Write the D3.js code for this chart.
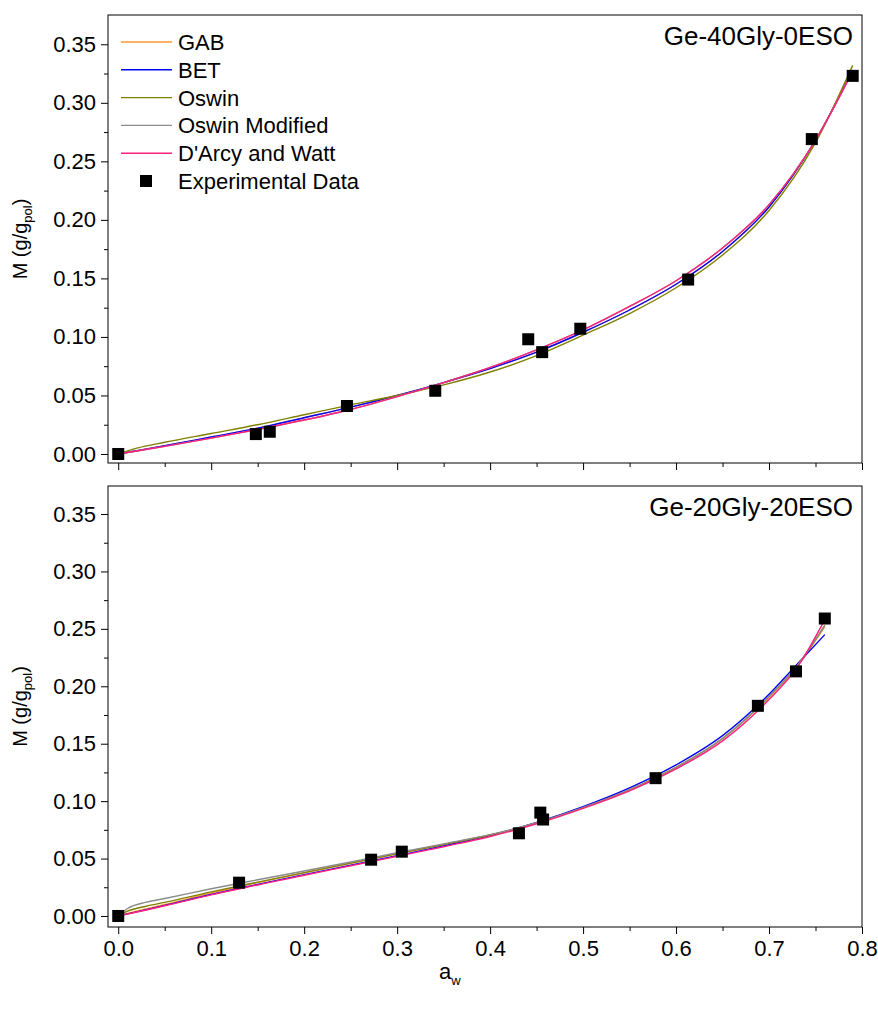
<!DOCTYPE html>
<html>
<head>
<meta charset="utf-8">
<script src="https://cdn.jsdelivr.net/npm/d3@7"></script>
<style>
  body { margin: 0; background: #fff; }
  text { font-family: "Liberation Sans", Arial, sans-serif; fill: #000; }
</style>
</head>
<body>
<div id="chart"></div>
<script>
// ---- data ----
var seriesNames = ["GAB", "BET", "Oswin", "Oswin Modified", "D'Arcy and Watt"];
var seriesColors = ["#ff9a2e", "#0000ff", "#808000", "#8c8c8c", "#ff1f7c"];

// top panel: Ge-40Gly-0ESO
var topAw = [0, 0.02, 0.05, 0.1, 0.15, 0.2, 0.25, 0.3, 0.35, 0.4, 0.45, 0.5, 0.55, 0.6, 0.65, 0.7, 0.75, 0.79];
var topGAB = [0, 0.0028, 0.007, 0.0145, 0.022, 0.031, 0.040, 0.050, 0.061, 0.073, 0.087, 0.104, 0.123, 0.145, 0.173, 0.211, 0.268, 0.328];
var topBET = [0, 0.0028, 0.007, 0.0145, 0.022, 0.031, 0.040, 0.050, 0.061, 0.073, 0.087, 0.104, 0.123, 0.145, 0.173, 0.211, 0.268, 0.328];
var topOswin = [0, 0.005, 0.010, 0.0175, 0.025, 0.0335, 0.042, 0.050, 0.059, 0.070, 0.084, 0.1015, 0.120, 0.142, 0.170, 0.208, 0.266, 0.332];
var topOswinMod = [0, 0.0026, 0.0065, 0.0135, 0.021, 0.029, 0.038, 0.049, 0.061, 0.074, 0.089, 0.106, 0.126, 0.148, 0.176, 0.213, 0.268, 0.327];
var topDarcy = [0, 0.0026, 0.0065, 0.0135, 0.021, 0.029, 0.038, 0.049, 0.061, 0.074, 0.089, 0.106, 0.126, 0.148, 0.176, 0.213, 0.268, 0.327];
var topExpAw = [0, 0.148, 0.163, 0.246, 0.341, 0.441, 0.456, 0.497, 0.613, 0.746, 0.790];
var topExpM = [0, 0.017, 0.019, 0.041, 0.054, 0.098, 0.087, 0.107, 0.149, 0.269, 0.323];

// bottom panel: Ge-20Gly-20ESO
var botAw = [0, 0.01, 0.03, 0.05, 0.1, 0.15, 0.2, 0.25, 0.3, 0.35, 0.4, 0.45, 0.5, 0.55, 0.6, 0.65, 0.7, 0.73, 0.76];
var botGAB = [0, 0.0022, 0.0062, 0.0100, 0.0200, 0.0290, 0.0375, 0.0458, 0.0542, 0.0622, 0.0705, 0.0812, 0.0945, 0.1100, 0.1295, 0.1545, 0.1905, 0.2170, 0.2520];
var botBET = [0, 0.0018, 0.0055, 0.0092, 0.0188, 0.0275, 0.0360, 0.0442, 0.0525, 0.0610, 0.0700, 0.0814, 0.0952, 0.1115, 0.1315, 0.1570, 0.1930, 0.2190, 0.2450];
var botOswin = [0, 0.0042, 0.0085, 0.0118, 0.0210, 0.0295, 0.0378, 0.0460, 0.0543, 0.0622, 0.0705, 0.0810, 0.0943, 0.1098, 0.1293, 0.1545, 0.1910, 0.2175, 0.2530];
var botOswinMod = [0, 0.0065, 0.0120, 0.0152, 0.0237, 0.0315, 0.0392, 0.0470, 0.0550, 0.0628, 0.0708, 0.0812, 0.0943, 0.1097, 0.1292, 0.1545, 0.1910, 0.2175, 0.2530];
var botDarcy = [0, 0.0017, 0.0052, 0.0089, 0.0184, 0.0270, 0.0355, 0.0437, 0.0520, 0.0603, 0.0692, 0.0803, 0.0937, 0.1090, 0.1280, 0.1525, 0.1885, 0.2160, 0.2580];
var botExpAw = [0, 0.130, 0.272, 0.305, 0.431, 0.454, 0.457, 0.578, 0.688, 0.729, 0.760];
var botExpM = [0, 0.029, 0.049, 0.056, 0.072, 0.090, 0.084, 0.120, 0.183, 0.213, 0.259];

var xTicks = [0, 0.1, 0.2, 0.3, 0.4, 0.5, 0.6, 0.7, 0.8];
var yTicks = [0, 0.05, 0.1, 0.15, 0.2, 0.25, 0.3, 0.35];

var W = 878, H = 1011;
var svg = d3.select("#chart").append("svg").attr("width", W).attr("height", H);

var x = d3.scaleLinear().domain([-0.011, 0.8]).range([108, 862]);

var panels = [
  { title: "Ge-40Gly-0ESO", aw: topAw, curves: [topGAB, topBET, topOswin, topOswinMod, topDarcy],
    expAw: topExpAw, expM: topExpM, y: d3.scaleLinear().domain([-0.0077, 0.375]).range([463, 15]),
    xLabels: false, legend: true },
  { title: "Ge-20Gly-20ESO", aw: botAw, curves: [botGAB, botBET, botOswin, botOswinMod, botDarcy],
    expAw: botExpAw, expM: botExpM, y: d3.scaleLinear().domain([-0.0096, 0.3744]).range([927, 486]),
    xLabels: true, legend: false }
];

panels.forEach(function (p) {
  var y = p.y;
  var top = y.range()[1], bottom = y.range()[0];
  var g = svg.append("g");

  // frame
  g.append("rect")
    .attr("x", x.range()[0]).attr("y", top)
    .attr("width", x.range()[1] - x.range()[0]).attr("height", bottom - top)
    .attr("fill", "none").attr("stroke", "#000").attr("stroke-width", 1);

  // y axis
  var yAx = g.append("g").attr("transform", "translate(" + x.range()[0] + ",0)")
    .call(d3.axisLeft(y).tickValues(yTicks).tickFormat(d3.format(".2f")).tickSize(7).tickPadding(5));
  yAx.select(".domain").remove();
  yAx.selectAll("text").style("font-size", "22px");
  g.append("g").attr("transform", "translate(" + x.range()[0] + ",0)")
    .call(d3.axisLeft(y).tickValues(d3.range(0.025, 0.36, 0.05)).tickFormat("").tickSize(4))
    .select(".domain").remove();

  // x axis
  var xAx = g.append("g").attr("transform", "translate(0," + bottom + ")")
    .call(d3.axisBottom(x).tickValues(xTicks).tickFormat(p.xLabels ? d3.format(".1f") : "").tickSize(7).tickPadding(6));
  xAx.select(".domain").remove();
  xAx.selectAll("text").style("font-size", "22px");
  g.append("g").attr("transform", "translate(0," + bottom + ")")
    .call(d3.axisBottom(x).tickValues(d3.range(0.05, 0.8, 0.1)).tickFormat("").tickSize(4))
    .select(".domain").remove();

  // fitted curves
  var line = d3.line().curve(d3.curveMonotoneX);
  p.curves.forEach(function (vals, i) {
    g.append("path")
      .datum(p.aw.map(function (a, k) { return [x(a), y(vals[k])]; }))
      .attr("d", line)
      .attr("fill", "none")
      .attr("stroke", seriesColors[i])
      .attr("stroke-width", 1.4);
  });

  // experimental data
  g.selectAll(".pt").data(p.expAw).enter().append("rect")
    .attr("x", function (d) { return x(d) - 6; })
    .attr("y", function (d, k) { return y(p.expM[k]) - 6; })
    .attr("width", 12).attr("height", 12)
    .attr("fill", "#000");

  // panel title
  g.append("text")
    .attr("x", 853).attr("y", top + 30)
    .attr("text-anchor", "end")
    .style("font-size", "26px")
    .text(p.title);

  // y label
  var yl = g.append("text")
    .attr("transform", "translate(27," + ((top + bottom) / 2) + ") rotate(-90)")
    .attr("text-anchor", "middle")
    .style("font-size", "20px");
  yl.append("tspan").text("M (g/g");
  yl.append("tspan").attr("dy", 5).style("font-size", "13px").text("pol");
  yl.append("tspan").attr("dy", -5).text(")");

  if (p.legend) {
    var lg = g.append("g");
    seriesNames.forEach(function (n, i) {
      var ly = 42 + i * 27.8;
      lg.append("line").attr("x1", 121).attr("x2", 172).attr("y1", ly).attr("y2", ly)
        .attr("stroke", seriesColors[i]).attr("stroke-width", 1.4);
      lg.append("text").attr("x", 178).attr("y", ly + 8).style("font-size", "22px").text(n);
    });
    var ey = 42 + 5 * 27.8;
    lg.append("rect").attr("x", 140).attr("y", ey - 6).attr("width", 12).attr("height", 12).attr("fill", "#000");
    lg.append("text").attr("x", 178).attr("y", ey + 8).style("font-size", "22px").text("Experimental Data");
  }
});

// x label
var xl = svg.append("text").attr("x", 439).attr("y", 979).style("font-size", "22px");
xl.append("tspan").text("a");
xl.append("tspan").attr("dy", 6).style("font-size", "13px").text("w");
</script>
</body>
</html>
